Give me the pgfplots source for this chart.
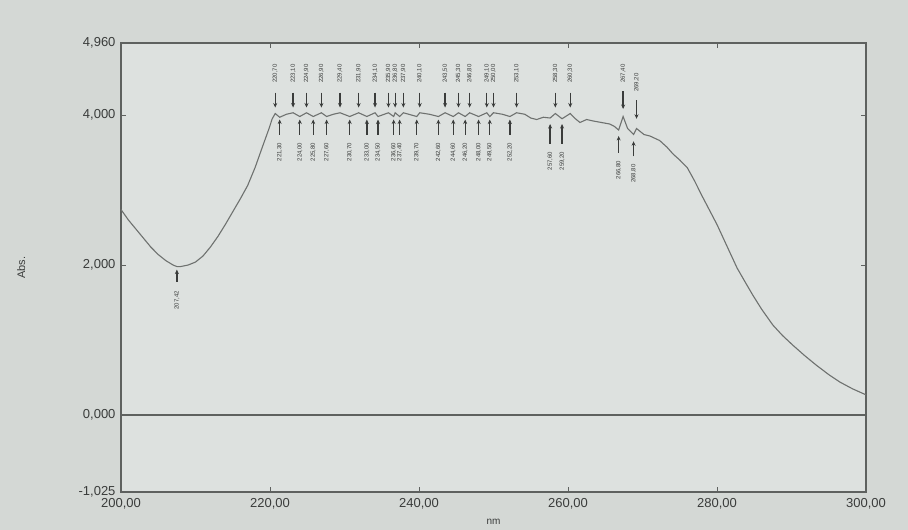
\documentclass[border=0pt]{standalone}
\usepackage{fontspec}
\setmainfont{Liberation Sans}
\usepackage{pgfplots}
\usepackage{pgfplotstable}
\pgfplotsset{compat=1.18}
\usetikzlibrary{arrows.meta}

\definecolor{bgout}{HTML}{D4D8D5}
\definecolor{bgin}{HTML}{DDE1DF}
\definecolor{curvec}{HTML}{6E716F}
\definecolor{framec}{HTML}{5E615F}
\definecolor{txt}{HTML}{3A3C3B}

\pgfplotstableread{
x y v ly lab
220.7 4.30 -0.20 4.42 220,70
223.1 4.30 -0.20 4.42 223,10
224.9 4.30 -0.20 4.42 224,90
226.9 4.30 -0.20 4.42 226,90
229.4 4.30 -0.20 4.42 229,40
231.9 4.30 -0.20 4.42 231,90
234.1 4.30 -0.20 4.42 234,10
235.9 4.30 -0.20 4.42 235,90
236.8 4.30 -0.20 4.42 236,80
237.9 4.30 -0.20 4.42 237,90
240.1 4.30 -0.20 4.42 240,10
243.5 4.30 -0.20 4.42 243,50
245.3 4.30 -0.20 4.42 245,30
246.8 4.30 -0.20 4.42 246,80
249.1 4.30 -0.20 4.42 249,10
250.0 4.30 -0.20 4.42 250,00
253.1 4.30 -0.20 4.42 253,10
258.3 4.30 -0.20 4.42 258,30
260.3 4.30 -0.20 4.42 260,30
267.4 4.32 -0.24 4.42 267,40
269.2 4.20 -0.25 4.30 269,20
}\peaks

\pgfplotstableread{
x y v ly lab
207.5 1.78 0.16 1.66 207,42
221.3 3.74 0.20 3.64 221,30
224.0 3.74 0.20 3.64 224,00
225.8 3.74 0.20 3.64 225,80
227.6 3.74 0.20 3.64 227,60
230.7 3.74 0.20 3.64 230,70
233.0 3.74 0.20 3.64 233,00
234.5 3.74 0.20 3.64 234,50
236.6 3.74 0.20 3.64 236,60
237.4 3.74 0.20 3.64 237,40
239.7 3.74 0.20 3.64 239,70
242.6 3.74 0.20 3.64 242,60
244.6 3.74 0.20 3.64 244,60
246.2 3.74 0.20 3.64 246,20
248.0 3.74 0.20 3.64 248,00
249.5 3.74 0.20 3.64 249,50
252.2 3.74 0.20 3.64 252,20
257.6 3.62 0.26 3.52 257,60
259.2 3.62 0.26 3.52 259,20
266.8 3.50 0.22 3.40 266,80
268.8 3.45 0.20 3.35 268,80
}\valleys

\begin{document}
\begin{tikzpicture}[x=1pt,y=1pt]
\path[use as bounding box, fill=bgout] (-121,-38) rectangle (787,492);
\begin{axis}[
  at={(0,0)}, anchor=south west,
  scale only axis, width=745pt, height=449pt,
  xmin=200, xmax=300, ymin=-1.025, ymax=4.96,
  xtick={200,220,240,260,280,300},
  ytick={-1.025,0,2,4,4.96},
  axis background/.style={fill=bgin},
  axis line style={framec, line width=1.6pt},
  tick style={framec, line width=0.9pt},
  major tick length=5pt,
  tick align=inside,
  /pgf/number format/assume math mode=true,
  xticklabel style={font=\fontsize{13}{15}\selectfont, text=txt, yshift=-3pt,
    /pgf/number format/.cd, fixed, fixed zerofill, precision=2, use comma, 1000 sep={}},
  yticklabel style={font=\fontsize{13}{15}\selectfont, text=txt, xshift=-2pt,
    /pgf/number format/.cd, fixed, fixed zerofill, precision=3, use comma, 1000 sep={}},
  xlabel={nm},
  xlabel style={at={(axis description cs:0.5,0)}, anchor=north, yshift=-24pt,
    font=\fontsize{10}{12}\selectfont, text=txt},
  ylabel={Abs.},
  ylabel style={at={(axis description cs:-0.134,0.5)}, anchor=center,
    font=\fontsize{11}{13}\selectfont, text=txt},
  clip=false,
]
\addplot[framec, line width=1.5pt, mark=none] coordinates {(200,0) (300,0)};

\addplot[curvec, line width=1.1pt, mark=none] coordinates {
(200,2.74) (201,2.60) (202,2.48) (203,2.36) (204,2.24) (205,2.14) (206,2.06)
(207,2.00) (207.5,1.98) (208,1.98) (209,2.00) (210,2.04) (211,2.12) (212,2.24)
(213,2.38) (214,2.54) (215,2.71) (216,2.88) (217,3.06) (218,3.30) (219,3.58)
(219.8,3.80) (220.3,3.95) (220.7,4.02) (221.3,3.97) (222.2,4.01) (223.1,4.03)
(224.0,3.98) (224.9,4.03) (225.8,3.98) (226.9,4.03) (227.6,3.98) (228.5,4.01)
(229.4,4.03) (230.7,3.98) (231.9,4.03) (233.0,3.98) (234.1,4.03) (234.5,3.98)
(235.9,4.03) (236.6,3.98) (236.8,4.03) (237.4,3.98) (237.9,4.03) (239.7,3.98)
(240.1,4.03) (241.4,4.01) (242.6,3.98) (243.5,4.03) (244.6,3.98) (245.3,4.03)
(246.2,3.98) (246.8,4.03) (248.0,3.98) (249.1,4.03) (249.5,3.98) (250.0,4.03)
(251.2,4.01) (252.2,3.98) (253.1,4.03) (254.2,4.01) (255.0,3.96) (255.8,3.94)
(256.7,3.97) (257.6,3.96) (258.3,4.02) (259.2,3.95) (260.3,4.02) (261.0,3.95)
(261.6,3.90) (262.5,3.94) (263.4,3.92) (264.5,3.90) (265.6,3.88) (266.2,3.85)
(266.8,3.80) (267.4,3.98) (268.0,3.82) (268.8,3.74) (269.2,3.82) (270.2,3.74)
(271.0,3.72) (272.3,3.66) (273.3,3.57) (274.1,3.48) (275.0,3.40) (276.0,3.30)
(277.0,3.12) (278.0,2.92) (279.0,2.73) (280.0,2.54) (281.3,2.26) (282.7,1.96)
(283.8,1.77) (284.8,1.60) (286.0,1.41) (287.5,1.20) (288.8,1.06) (290.2,0.93)
(291.8,0.79) (293.4,0.66) (295.0,0.54) (296.5,0.44) (298.2,0.35) (300,0.27)
};

\addplot[quiver={u=0, v=\thisrow{v}}, -{Stealth[length=4.5pt,width=4pt]},
  txt, line width=1.3pt, mark=none] table[x=x, y=y] \peaks;
\addplot[quiver={u=0, v=\thisrow{v}}, -{Stealth[length=4.5pt,width=4pt]},
  txt, line width=1.3pt, mark=none] table[x=x, y=y] \valleys;

\addplot[draw=none, mark=none, nodes near coords, point meta=explicit symbolic,
  nodes near coords style={font=\fontsize{6}{7}\selectfont, rotate=90, anchor=west,
  inner sep=0.5pt, text=txt}] table[x=x, y=ly, meta=lab] \peaks;
\addplot[draw=none, mark=none, nodes near coords, point meta=explicit symbolic,
  nodes near coords style={font=\fontsize{6}{7}\selectfont, rotate=90, anchor=east,
  inner sep=0.5pt, text=txt}] table[x=x, y=ly, meta=lab] \valleys;
\end{axis}
\end{tikzpicture}
\end{document}
